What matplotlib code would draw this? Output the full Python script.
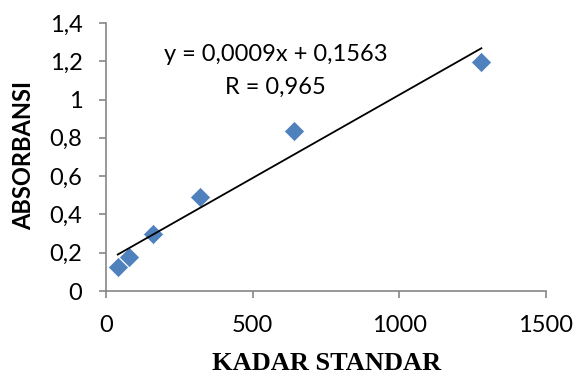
import numpy as np
import matplotlib.pyplot as plt
from matplotlib.ticker import FuncFormatter, MultipleLocator

# standard concentrations and measured absorbance
kadar = [40, 80, 160, 320, 640, 1280]
absorbansi = [0.125, 0.178, 0.298, 0.491, 0.836, 1.196]

eq_text = "y = 0,0009x + 0,1563"
r_text = "R = 0,965"

fig = plt.figure(figsize=(5.87, 3.76), dpi=100)
ax = fig.add_axes([0.1806, 0.226, 0.7494, 0.713])

ax.plot(kadar, absorbansi, "D", color="#4F81BD", ms=10.5,
        mec="white", mew=0.4, zorder=3)

# linear trendline
slope, icpt = np.polyfit(kadar, absorbansi, 1)
xl = np.array([min(kadar), max(kadar)])
ax.plot(xl, slope * xl + icpt, "-", color="black", lw=1.3, zorder=4)

ax.set_xlim(0, 1500)
ax.set_ylim(0, 1.4)
ax.xaxis.set_major_locator(MultipleLocator(500))
ax.yaxis.set_major_locator(MultipleLocator(0.2))
ax.yaxis.set_major_formatter(FuncFormatter(lambda v, p: f"{v:g}".replace(".", ",")))

for s in ["top", "right"]:
    ax.spines[s].set_visible(False)
for s in ["left", "bottom"]:
    ax.spines[s].set_color("#868686")
    ax.spines[s].set_linewidth(1.2)
ax.tick_params(direction="out", length=5, width=1.2, color="#868686",
               labelsize=17, labelcolor="black")
ax.tick_params(axis="x", pad=12)
ax.tick_params(axis="y", pad=12)
for lab in ax.get_xticklabels() + ax.get_yticklabels():
    lab.set_family("Lato")

ax.text(578, 1.233, eq_text, ha="center", va="center", fontsize=17,
        family="Lato")
ax.text(578, 1.063, r_text, ha="center", va="center", fontsize=17,
        family="Lato")

fig.text(24 / 587, 1 - 156 / 376, "ABSORBANSI", rotation=90, ha="center",
         va="center", fontsize=17, fontweight="bold", family="Lato")
fig.text(327 / 587, 1 - 364 / 376, "KADAR STANDAR", ha="center",
         va="center", fontsize=19, fontweight="bold",
         family="Liberation Serif")

fig.savefig("out.png", dpi=100)
